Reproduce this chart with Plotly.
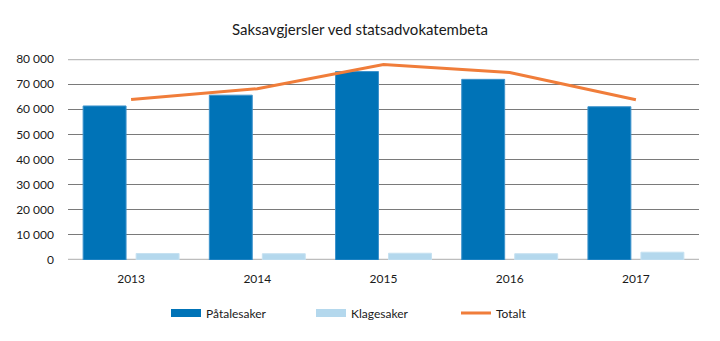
import plotly.graph_objects as go

years = ["2013", "2014", "2015", "2016", "2017"]
patalesaker = [61300, 65600, 75000, 71900, 61000]
klagesaker = [2600, 2500, 2700, 2500, 3100]
totalt = [63900, 68200, 77800, 74600, 63800]

font_family = "Lato, Open Sans, Noto Sans, sans-serif"
c_pat = "#0073b7"
c_kla = "#b4d8ed"
c_tot = "#f07d3a"

fig = go.Figure()
fig.add_trace(go.Bar(x=years, y=patalesaker, name="Påtalesaker", showlegend=False,
                     marker=dict(color=c_pat, line=dict(color="#3d93cc", width=1))))
fig.add_trace(go.Bar(x=years, y=klagesaker, name="Klagesaker", showlegend=False,
                     marker=dict(color=c_kla, line=dict(color="#c6e1f1", width=1))))
fig.add_trace(go.Scatter(x=years, y=totalt, name="Totalt", mode="lines", showlegend=False,
                         line=dict(color=c_tot, width=3)))
# legend-only entries (wide swatches like the reference)
fig.add_trace(go.Scatter(x=[None], y=[None], name="Påtalesaker", mode="lines",
                         line=dict(color=c_pat, width=8)))
fig.add_trace(go.Scatter(x=[None], y=[None], name="Klagesaker", mode="lines",
                         line=dict(color=c_kla, width=8)))
fig.add_trace(go.Scatter(x=[None], y=[None], name="Totalt", mode="lines",
                         line=dict(color=c_tot, width=3)))

fig.update_layout(
    width=720, height=341,
    margin=dict(l=68, r=21, t=59, b=81),
    paper_bgcolor="white", plot_bgcolor="white",
    separators=", ",
    font=dict(family=font_family, size=12, color="#1a1a1a"),
    title=dict(text="Saksavgjersler ved statsadvokatembeta", x=0.5, xanchor="center",
               y=1 - 30 / 341, yanchor="middle",
               font=dict(size=15, color="#1a1a1a", family=font_family)),
    barmode="group", bargap=0.16, bargroupgap=0.19,
    showlegend=True,
    legend=dict(orientation="h", x=0.5, xanchor="center", y=-0.264, yanchor="middle",
                font=dict(size=12), entrywidth=100, entrywidthmode="pixels",
                traceorder="normal"),
    xaxis=dict(showgrid=False, ticks="", showline=False, tickfont=dict(size=12),
               ticklabelstandoff=10),
    yaxis=dict(range=[0, 80000], tickvals=[0, 10000, 20000, 30000, 40000, 50000, 60000, 70000, 80000],
               tickformat=",d", showgrid=True, gridcolor="#7a7a7a", gridwidth=1,
               zeroline=False, showline=False, ticks="", ticklabelstandoff=13,
               tickfont=dict(size=12)),
    shapes=[
        dict(type="line", xref="paper", yref="y", x0=0, x1=1, y0=0, y1=0,
             line=dict(color="#bdbdbd", width=2.5), layer="between"),
        dict(type="line", xref="paper", yref="y", x0=0, x1=1, y0=80000, y1=80000,
             line=dict(color="#bdbdbd", width=2.5), layer="between"),
    ],
)

fig.write_html("out.html")
